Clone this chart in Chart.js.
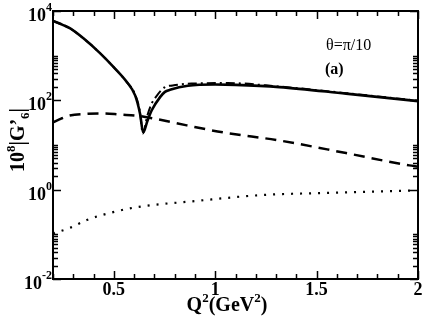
<!DOCTYPE html>
<html>
<head>
<meta charset="utf-8">
<script src="https://cdn.jsdelivr.net/npm/chart.js@4"></script>
<style>
html,body{margin:0;padding:0;background:#fff;}
#wrap{width:425px;height:327px;position:relative;}
</style>
</head>
<body>
<div id="wrap"><canvas id="c"></canvas></div>
<script>
// ---- data ----
const xSolid   = [0.2, 0.25, 0.285, 0.35, 0.433, 0.498, 0.564, 0.605, 0.629, 0.645, 0.665, 0.687, 0.728, 0.752, 0.777, 0.865, 1.0, 1.1, 1.317, 1.645, 2.0];
const ySolid   = [6000, 4840, 4070, 2440, 1125, 560, 257, 129, 51, 19, 34, 60, 118, 155, 172, 212, 226, 222, 198, 141, 96];

const xDashDot = [0.2, 0.25, 0.285, 0.35, 0.433, 0.498, 0.564, 0.605, 0.629, 0.643, 0.665, 0.687, 0.703, 0.75, 0.79, 0.883, 1.062, 1.308, 1.645, 2.0];
const yDashDot = [6000, 4840, 4070, 2440, 1125, 560, 257, 135, 55, 18, 45, 85, 112, 195, 215, 237, 244, 205, 145, 98];

const xDashed  = [0.2, 0.24, 0.277, 0.367, 0.45, 0.531, 0.62, 0.693, 0.86, 1.037, 1.317, 1.645, 1.957, 2.0];
const yDashed  = [32, 39, 45, 50, 51, 48, 45, 39.5, 27.5, 19.2, 12.6, 6.6, 3.5, 3.3];

const xDotted  = [0.2, 0.285, 0.367, 0.48, 0.605, 0.908, 1.234, 1.563, 1.957, 2.0];
const yDotted  = [0.105, 0.14, 0.21, 0.30, 0.40, 0.56, 0.76, 0.85, 0.95, 0.96];

const xMajorTicks = [0.5, 1, 1.5, 2];
const xTickLabels = ["0.5", "1", "1.5", "2"];
const yMajorExp   = [-2, 0, 2, 4];
const yTickExpLabels = ["-2", "0", "2", "4"];

const pts = (xs, ys) => xs.map((x, i) => ({x: x, y: ys[i]}));

const SERIF = '"Liberation Serif", "Times New Roman", serif';

function drawRich(ctx, segs, x, y, align) {
  // segs: [{t, size, bold, dy}]
  let total = 0;
  segs.forEach(s => {
    ctx.font = (s.bold ? 'bold ' : '') + s.size + 'px ' + SERIF;
    s.w = ctx.measureText(s.t).width;
    total += s.w;
  });
  let cx = x;
  if (align === 'center') cx = x - total / 2;
  else if (align === 'right') cx = x - total;
  ctx.textAlign = 'left';
  ctx.textBaseline = 'alphabetic';
  segs.forEach(s => {
    ctx.font = (s.bold ? 'bold ' : '') + s.size + 'px ' + SERIF;
    ctx.fillText(s.t, cx, y + (s.dy || 0));
    cx += s.w;
  });
}

const axesPlugin = {
  id: 'axesPlugin',
  afterDraw(chart) {
    const ctx = chart.ctx;
    const xs = chart.scales.x, ys = chart.scales.y;
    const a = chart.chartArea;
    ctx.save();
    ctx.strokeStyle = '#000';
    ctx.fillStyle = '#000';
    ctx.lineWidth = 2;
    ctx.strokeRect(a.left, a.top, a.right - a.left, a.bottom - a.top);

    ctx.lineWidth = 1.5;
    // x ticks
    for (let k = 2; k <= 20; k++) {
      const v = k / 10;
      const px = Math.round(xs.getPixelForValue(v)) + 0.5;
      const major = (k % 5 === 0);
      const len = major ? 8 : 5;
      ctx.beginPath();
      ctx.moveTo(px, a.bottom); ctx.lineTo(px, a.bottom - len);
      ctx.moveTo(px, a.top); ctx.lineTo(px, a.top + len);
      ctx.stroke();
    }
    // y ticks
    yMajorExp.forEach(e => {
      const py = Math.round(ys.getPixelForValue(Math.pow(10, e))) + 0.5;
      ctx.beginPath();
      ctx.moveTo(a.left, py); ctx.lineTo(a.left + 8, py);
      ctx.moveTo(a.right, py); ctx.lineTo(a.right - 8, py);
      ctx.stroke();
      if (e < 4) {
        for (let n = 2; n <= 10; n++) {
          const q = Math.round(ys.getPixelForValue(n * Math.pow(10, e))) + 0.5;
          ctx.beginPath();
          ctx.moveTo(a.left, q); ctx.lineTo(a.left + 5, q);
          ctx.moveTo(a.right, q); ctx.lineTo(a.right - 5, q);
          ctx.stroke();
        }
      }
    });

    // x tick labels
    ctx.textAlign = 'center';
    ctx.textBaseline = 'alphabetic';
    ctx.font = 'bold 18px ' + SERIF;
    xMajorTicks.forEach((v, i) => {
      ctx.fillText(xTickLabels[i], xs.getPixelForValue(v), a.bottom + 16);
    });

    // y tick labels
    yMajorExp.forEach((e, i) => {
      const py = ys.getPixelForValue(Math.pow(10, e));
      drawRich(ctx, [
        {t: '10', size: 18, bold: true, dy: 0},
        {t: yTickExpLabels[i], size: 12, bold: true, dy: -10}
      ], a.left - 1, py + 10, 'right');
    });

    // x title
    drawRich(ctx, [
      {t: 'Q', size: 20, bold: true},
      {t: '2', size: 13, bold: true, dy: -9},
      {t: '(GeV', size: 20, bold: true},
      {t: '2', size: 13, bold: true, dy: -9},
      {t: ')', size: 20, bold: true}
    ], 227, 311, 'center');

    // y title (rotated)
    ctx.save();
    ctx.translate(24, 140);
    ctx.rotate(-Math.PI / 2);
    drawRich(ctx, [
      {t: '10', size: 20, bold: true},
      {t: '8', size: 13, bold: true, dy: -9},
      {t: '|G\u2019', size: 20, bold: true},
      {t: '6', size: 13, bold: true, dy: 5},
      {t: '|', size: 20, bold: true}
    ], 0, 0, 'center');
    ctx.restore();

    // annotations
    ctx.textAlign = 'left';
    ctx.font = '16px ' + SERIF;
    ctx.fillText('\u03b8=\u03c0/10', 326, 50);
    ctx.font = 'bold 16px ' + SERIF;
    ctx.fillText('(a)', 325, 74);
    ctx.restore();
  }
};

new Chart(document.getElementById('c'), {
  type: 'line',
  data: {
    datasets: [
      {data: pts(xSolid, ySolid), borderColor: '#000', borderWidth: 2.6, cubicInterpolationMode: 'monotone'},
      {data: pts(xDashDot, yDashDot), borderColor: '#000', borderWidth: 2, borderDash: [9, 4, 2, 4], cubicInterpolationMode: 'monotone'},
      {data: pts(xDashed, yDashed), borderColor: '#000', borderWidth: 2.5, borderDash: [11, 7], cubicInterpolationMode: 'monotone'},
      {data: pts(xDotted, yDotted), borderColor: '#000', borderWidth: 2.2, borderDash: [2, 7], cubicInterpolationMode: 'monotone'}
    ]
  },
  options: {
    responsive: true,
    maintainAspectRatio: false,
    animation: false,
    events: [],
    layout: {padding: {left: 53, right: 7, top: 11, bottom: 48}},
    elements: {point: {radius: 0}, line: {fill: false}},
    plugins: {legend: {display: false}, tooltip: {enabled: false}},
    scales: {
      x: {type: 'linear', min: 0.2, max: 2, display: false},
      y: {type: 'logarithmic', min: 0.01, max: 10000, display: false}
    }
  },
  plugins: [axesPlugin]
});
</script>
</body>
</html>
